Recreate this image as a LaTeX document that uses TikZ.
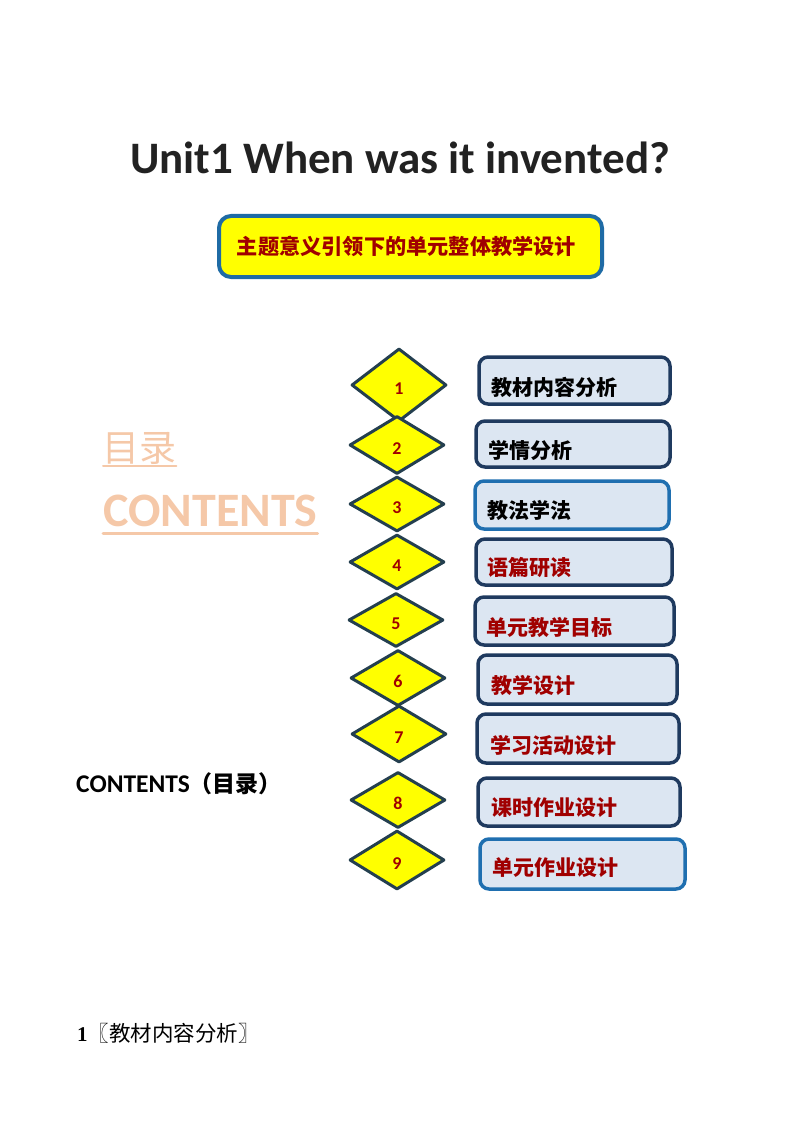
\documentclass[tikz,border=0pt]{standalone}
\usepackage{fontspec}
\setmainfont{Carlito}
\newfontfamily\cjk{Noto Sans CJK SC}
\newfontfamily\numfont{Liberation Serif}
\usepackage{tikz}
\usetikzlibrary{shapes.geometric,calc}
\definecolor{titleink}{HTML}{222222}
\definecolor{bannerblue}{HTML}{1F6BA5}
\definecolor{deepred}{HTML}{A00000}
\definecolor{diafill}{HTML}{FFFF00}
\definecolor{diaedge}{HTML}{243F4F}
\definecolor{boxfill}{HTML}{DCE6F2}
\definecolor{boxedge}{HTML}{1F3A5F}
\definecolor{boxlight}{HTML}{1F6FB0}
\definecolor{peach}{HTML}{F5C8A8}
\tikzset{
  banner/.style={rectangle, rounded corners=12pt, draw=bannerblue, line width=4pt, fill=diafill, minimum width=383pt, minimum height=61pt, inner sep=0pt, text=deepred, font=\cjk\bfseries\fontsize{21.2}{21.2}\selectfont},
  numdia/.style={diamond, draw=diaedge, line width=3pt, fill=diafill, minimum width=95pt, minimum height=57pt, inner sep=0pt, text height=18pt, text depth=0pt, text=deepred, font=\bfseries\fontsize{18}{18}\selectfont},
  tocbox/.style={rectangle, rounded corners=9pt, draw=boxedge, line width=3.5pt, fill=boxfill, inner sep=0pt},
  toctext/.style={anchor=west, inner sep=0pt, font=\cjk\bfseries\fontsize{21}{21}\selectfont},
  every picture/.style={line cap=round, line join=round}
}
\begin{document}
\begin{tikzpicture}[x=1pt,y=-1pt]
  \useasboundingbox (0,0) rectangle (794,1123);
  \node[text=titleink, font=\bfseries\fontsize{45}{45}\selectfont] (title) at (400,158) {Unit1 When was it invented?};
  \node[banner] (theme) at (410.5,246.5) {\hspace*{-8pt}主题意义引领下的单元整体教学设计};
  \node[anchor=west, inner sep=0pt, text=peach, font=\cjk\fontsize{37}{37}\selectfont] (mulu) at (102,448) {目录};
  \node[anchor=west, inner sep=0pt, text=peach, font=\bfseries\fontsize{48}{48}\selectfont] (contents) at (103,511) {CONTENTS};
  \draw[peach, line width=2pt] ($(mulu.south west)+(1,2)$) -- ($(mulu.south east)+(0,2)$);
  \draw[peach, line width=3pt] ($(contents.south west)+(0,6)$) -- ($(contents.south east)+(0,6)$);
  \node[numdia, minimum height=73pt] (d1) at (399,385) {1};
  \node[numdia, minimum height=58pt] (d2) at (397,445) {2};
  \node[numdia, minimum height=55pt] (d3) at (397,504) {3};
  \node[numdia, minimum height=55pt] (d4) at (397,562) {4};
  \node[numdia, minimum height=54pt] (d5) at (396,620) {5};
  \node[numdia, minimum height=56pt] (d6) at (398,678) {6};
  \node[numdia, minimum height=57pt] (d7) at (399,734) {7};
  \node[numdia, minimum height=56pt] (d8) at (398,800) {8};
  \node[numdia, minimum height=59pt] (d9) at (397,860) {9};
  \node[tocbox, minimum width=191pt, minimum height=47pt] (b1) at (574.5,380.5) {};
  \node[tocbox, minimum width=194pt, minimum height=46pt] (b2) at (573,444) {};
  \node[tocbox, draw=boxlight, minimum width=194pt, minimum height=48pt] (b3) at (572,505) {};
  \node[tocbox, minimum width=196pt, minimum height=46pt] (b4) at (574,562) {};
  \node[tocbox, minimum width=199pt, minimum height=48pt] (b5) at (574.5,621) {};
  \node[tocbox, minimum width=199pt, minimum height=49pt] (b6) at (577.5,679.5) {};
  \node[tocbox, minimum width=202pt, minimum height=49pt] (b7) at (578,738.5) {};
  \node[tocbox, minimum width=202pt, minimum height=48pt] (b8) at (579,802) {};
  \node[tocbox, draw=boxlight, minimum width=205pt, minimum height=50pt] (b9) at (582.5,864) {};
  \node[toctext] (t1) at ($(b1.west)+(14,7)$) {教材内容分析};
  \node[toctext] (t2) at ($(b2.west)+(14,6)$) {学情分析};
  \node[toctext] (t3) at ($(b3.west)+(14,5)$) {教法学法};
  \node[toctext, text=deepred] (t4) at ($(b4.west)+(13,6)$) {语篇研读};
  \node[toctext, text=deepred] (t5) at ($(b5.west)+(13,6)$) {单元教学目标};
  \node[toctext, text=deepred] (t6) at ($(b6.west)+(15,6)$) {教学设计};
  \node[toctext, text=deepred] (t7) at ($(b7.west)+(15,7)$) {学习活动设计};
  \node[toctext, text=deepred] (t8) at ($(b8.west)+(15,6)$) {课时作业设计};
  \node[toctext, text=deepred] (t9) at ($(b9.west)+(14,4)$) {单元作业设计};
  \node[anchor=west, inner sep=0pt, font=\bfseries\fontsize{25.5}{25.5}\selectfont] (contents2) at (76,784) {CONTENTS{\cjk\fontsize{23}{23}\selectfont（目录）}};
  \node[anchor=west, inner sep=0pt, font=\cjk\fontsize{21.5}{21.5}\selectfont] (section1) at (77,1033) {{\numfont\bfseries\fontsize{21}{21}\selectfont 1}〖教材内容分析〗};
\end{tikzpicture}
\end{document}
